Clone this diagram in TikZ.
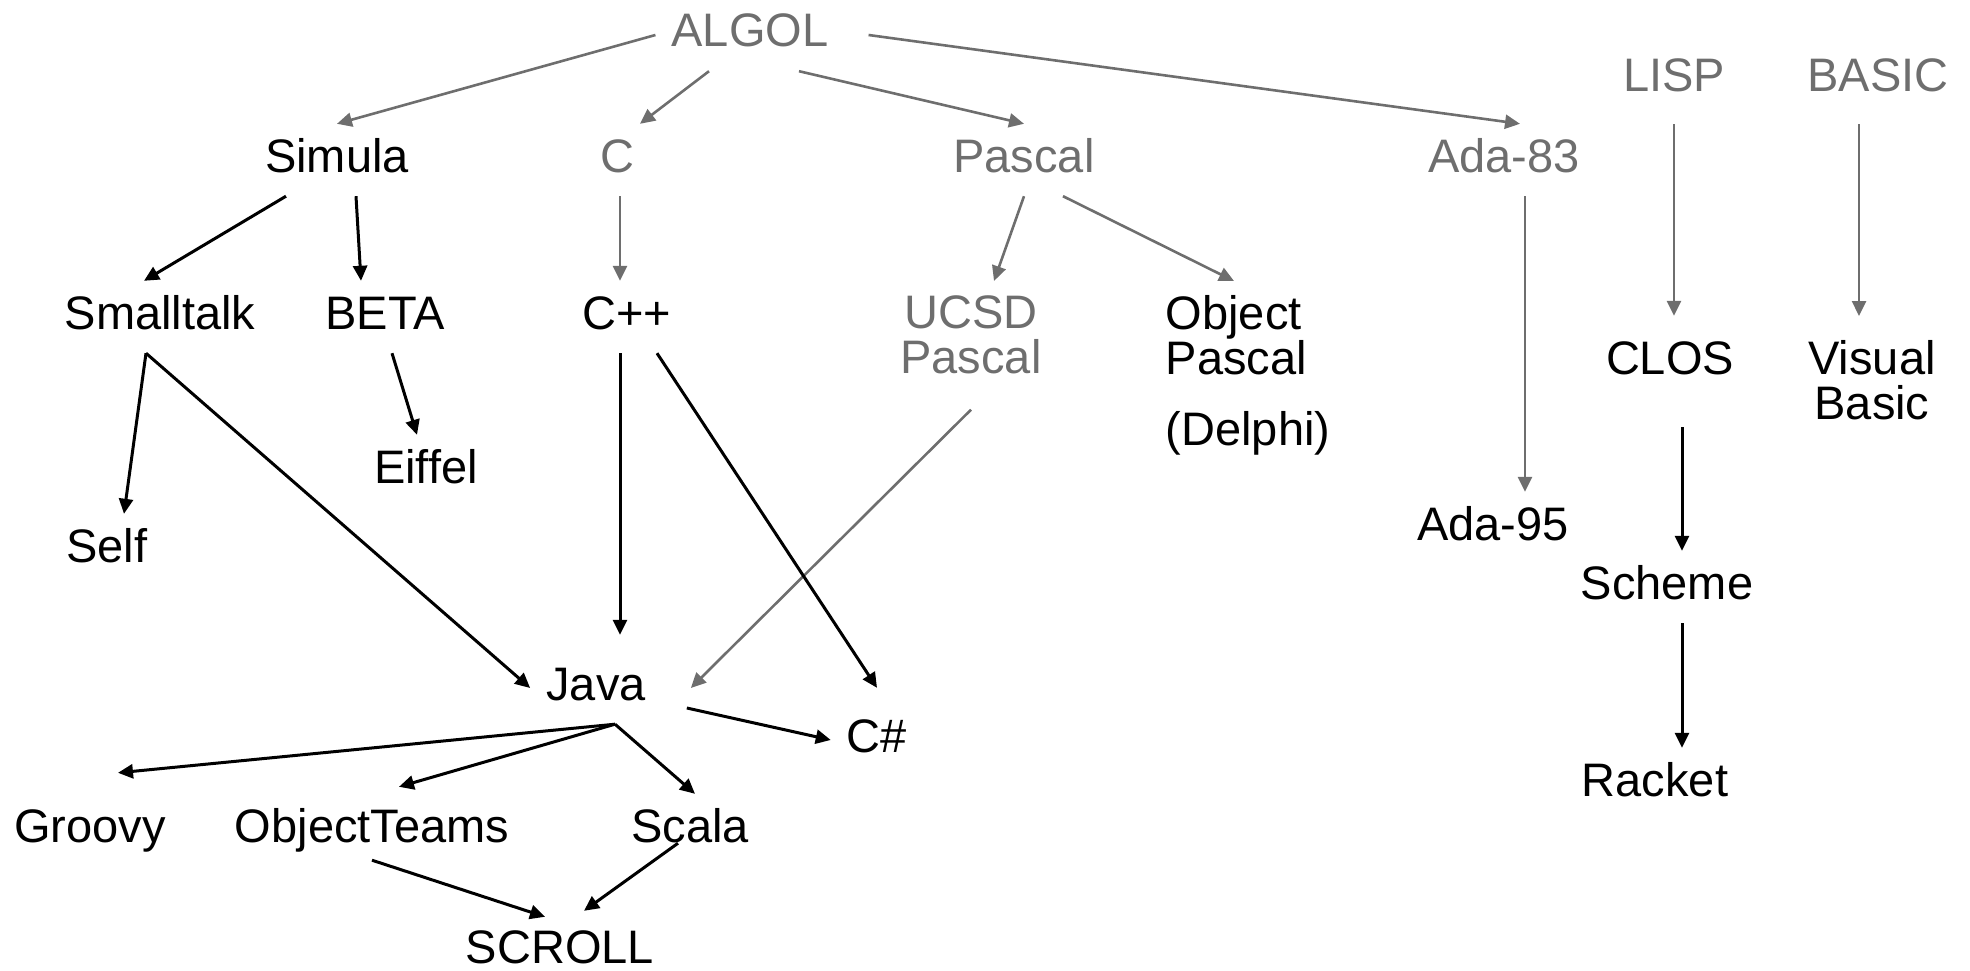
\documentclass[tikz,border=0pt]{standalone}
\usepackage{fontspec}
\setmainfont{Liberation Sans}
\usetikzlibrary{arrows.meta}
\definecolor{oldgray}{RGB}{110,110,110}

\begin{document}
\begin{tikzpicture}[
  x=1pt,y=-1pt,
  font=\fontsize{47}{45}\selectfont,
  lang/.style={text height=34pt,text depth=10pt,inner xsep=16pt,inner ysep=14pt},
  multi/.style={inner xsep=16pt,inner ysep=14pt,anchor=north},
  old/.style={text=oldgray},
  arrow/.style={-{Triangle[length=15pt,width=14pt]},line width=3pt},
  oldarrow/.style={arrow,oldgray,line width=2.6pt}
]
  \useasboundingbox (0,0) rectangle (1970,971);

  % roots and first generation
  \node[lang,old] (algol) at (750,35) {ALGOL};
  \node[lang,old] (lisp) at (1674,80) {LISP};
  \node[lang,old] (basic) at (1878,80) {BASIC};
  \node[lang] (simula) at (337,160) {Simula};
  \node[lang,old] (c) at (617,160) {C};
  \node[lang,old] (pascal) at (1024,160) {Pascal};
  \node[lang,old] (ada83) at (1504,160) {Ada-83};

  \node[lang] (smalltalk) at (160,317) {Smalltalk};
  \node[lang] (beta) at (385,317) {BETA};
  \node[lang] (cpp) at (627,317) {C++};
  \node[multi,old,align=center] (ucsd) at (971,281) {UCSD\\Pascal};
  \node[multi,align=left] (objpascal) at (1248,281) {Object\\Pascal\\[26pt](Delphi)};
  \node[lang] (clos) at (1670,362) {CLOS};
  \node[multi,align=center] (visual) at (1872,326) {Visual\\Basic};

  \node[lang] (eiffel) at (426,471) {Eiffel};
  \node[lang] (self) at (107,550) {Self};
  \node[lang] (ada95) at (1493,528) {Ada-95};
  \node[lang] (scheme) at (1667,587) {Scheme};
  \node[lang] (racket) at (1655,784) {Racket};

  \node[lang] (java) at (596,688) {Java};
  \node[lang] (csharp) at (877,740) {C\#};
  \node[lang] (groovy) at (90,830) {Groovy};
  \node[lang] (objteams) at (372,830) {ObjectTeams};
  \node[lang] (scala) at (690,830) {Scala};
  \node[lang] (scroll) at (560,951) {SCROLL};

  % gray lineage
  \draw[oldarrow] (algol.west) -- (simula.north);
  \draw[oldarrow] ([xshift=-41pt]algol.south) -- ([xshift=23pt]c.north);
  \draw[oldarrow] ([xshift=49pt]algol.south) -- (pascal.north);
  \draw[oldarrow] ([xshift=24pt]algol.east) -- ([xshift=16pt]ada83.north);
  \draw[oldarrow,shorten <=8pt,shorten >=10pt] (lisp.south) -- (lisp.south |- clos.north);
  \draw[oldarrow,shorten <=8pt,shorten >=10pt] ([xshift=-19pt]basic.south) -- ([xshift=-19pt]basic.south |- visual.north);
  \draw[oldarrow] ([xshift=21pt]ada83.south) -- ([xshift=21pt]ada83.south |- ada95.north);
  \draw[oldarrow] ([xshift=3pt]c.south) -- ([xshift=3pt]c.south |- cpp.north);
  \draw[oldarrow] (pascal.south) -- ([xshift=23pt]ucsd.north);
  \draw[oldarrow] ([xshift=39pt]pascal.south) -- ([xshift=-14pt]objpascal.north);
  \draw[oldarrow] ([yshift=-22pt]ucsd.south) -- ([xshift=29pt]java.east);

  % black lineage
  \draw[arrow] ([xshift=-51pt]simula.south) -- ([xshift=-16pt]smalltalk.north);
  \draw[arrow] ([xshift=19pt]simula.south) -- ([xshift=-24pt]beta.north);
  \draw[arrow] ([xshift=-14pt]smalltalk.south) -- ([xshift=17pt]self.north);
  \draw[arrow] ([xshift=-14pt]smalltalk.south) -- (java.west);
  \draw[arrow] ([xshift=7pt]beta.south) -- ([xshift=-9pt]eiffel.north);
  \draw[arrow,shorten >=17pt] ([xshift=-7pt]cpp.south) -- ([xshift=-7pt]cpp.south |- java.north);
  \draw[arrow] ([xshift=30pt]cpp.south) -- ([yshift=16pt]csharp.north);
  \draw[arrow,shorten <=29pt] ([xshift=12pt]clos.south) -- ([xshift=12pt]clos.south |- scheme.north);
  \draw[arrow] ([xshift=15pt]scheme.south) -- ([xshift=15pt]scheme.south |- racket.north);
  \draw[arrow] ([xshift=25pt,yshift=-20pt]java.east) -- (csharp.west);
  \foreach \x/\dx/\dy in {groovy/28/21,objteams/27/7,scala/5/0} {
    \draw[arrow] ([xshift=19pt]java.south) -- ([xshift=\dx pt,yshift=\dy pt]\x.north);
  }
  \draw[arrow] ([yshift=6pt]objteams.south) -- ([xshift=-15pt,yshift=-2pt]scroll.north);
  \draw[arrow] ([xshift=-12pt,yshift=23pt]scala.south) -- ([xshift=24pt,yshift=4pt]scroll.north);
\end{tikzpicture}
\end{document}
